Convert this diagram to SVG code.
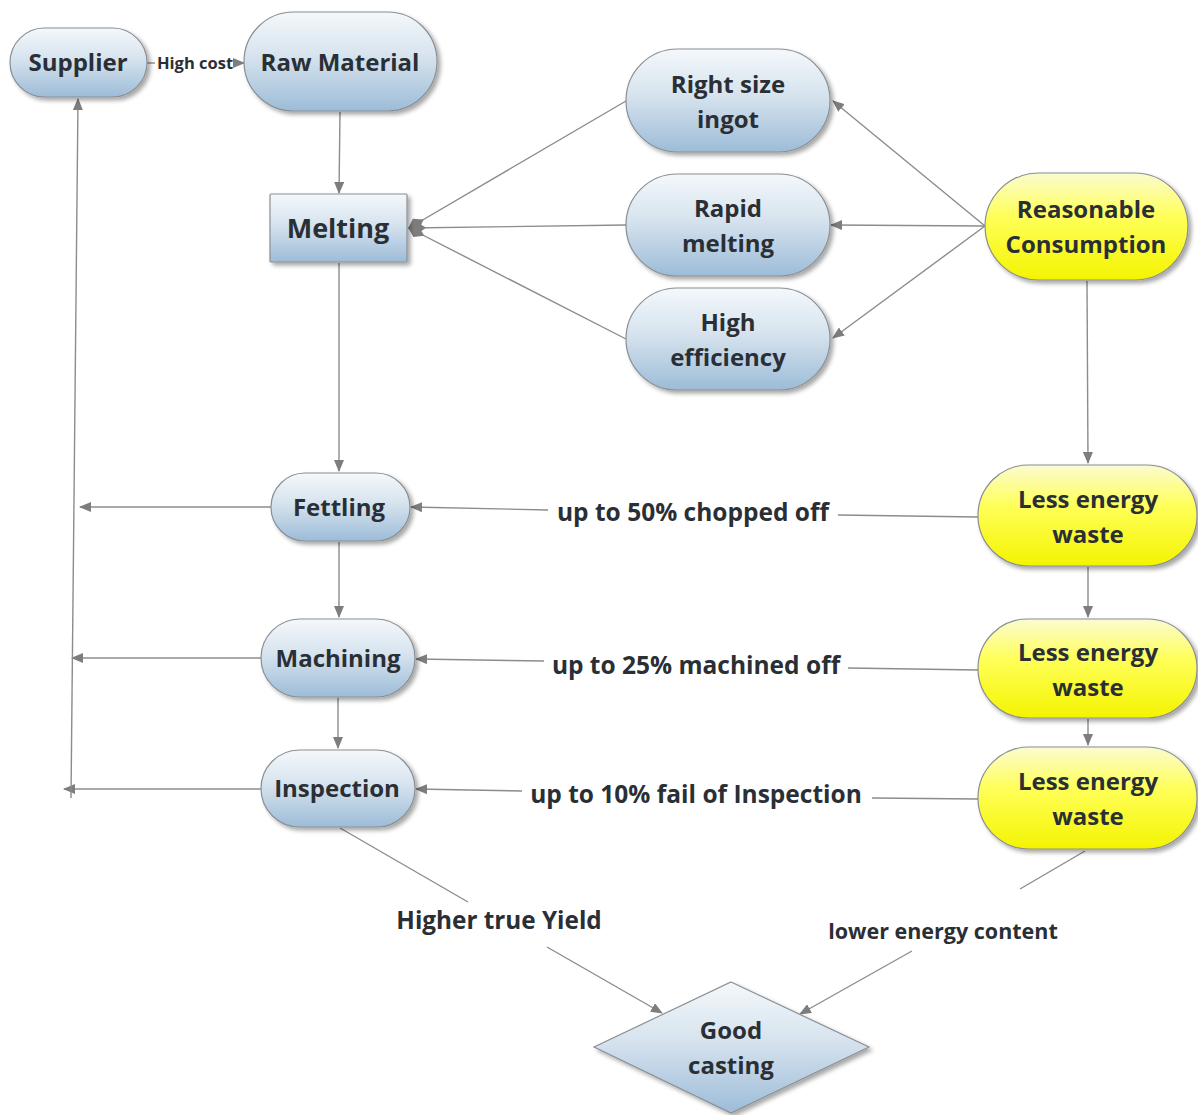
<svg xmlns="http://www.w3.org/2000/svg" width="1198" height="1115" viewBox="0 0 1198 1115">
  <defs>
    <linearGradient id="blueFill" x1="0" y1="0" x2="0" y2="1">
      <stop offset="0" stop-color="#f4f8fb"/>
      <stop offset="0.45" stop-color="#d6e3ee"/>
      <stop offset="1" stop-color="#9dbcd8"/>
    </linearGradient>
    <linearGradient id="yellowFill" x1="0" y1="0" x2="0" y2="1">
      <stop offset="0" stop-color="#fbfbd0"/>
      <stop offset="0.4" stop-color="#ffff5a"/>
      <stop offset="1" stop-color="#f4f400"/>
    </linearGradient>
    <filter id="shadow" x="-20%" y="-20%" width="150%" height="150%">
      <feDropShadow dx="3" dy="3" stdDeviation="2.2" flood-color="#000" flood-opacity="0.35"/>
    </filter>
    <marker id="arrow" viewBox="0 0 12 10" refX="11" refY="5" markerWidth="12" markerHeight="10" markerUnits="userSpaceOnUse" orient="auto">
      <path d="M0,0 L12,5 L0,10 Z" fill="#7d7d7d"/>
    </marker>
    <marker id="diamondEnd" viewBox="0 0 18 12" refX="17" refY="6" markerWidth="18" markerHeight="12" markerUnits="userSpaceOnUse" orient="auto">
      <path d="M0,6 L9,0 L18,6 L9,12 Z" fill="#7d7d7d"/>
    </marker>
  </defs>
  <style>
    .node { stroke: #8a8f94; stroke-width: 1.2; filter: url(#shadow); }
    .blue { fill: url(#blueFill); }
    .yellow { fill: url(#yellowFill); }
    .label { font-family: "Open Sans", "Noto Sans", "DejaVu Sans", sans-serif; font-weight: bold; fill: #2a2f35; text-anchor: middle; }
    .big { font-size: 24px; }
    .edge { stroke: #8c8c8c; stroke-width: 1.4; fill: none; }
    .elabel { font-family: "Open Sans", "Noto Sans", "DejaVu Sans", sans-serif; font-weight: bold; fill: #2a2f35; text-anchor: middle; }
  </style>
  <rect width="1198" height="1115" fill="#ffffff"/>

  <g id="connectors">
    <!-- supplier to raw material -->
    <line class="edge" x1="147" y1="63" x2="155" y2="63"/>
    <line class="edge" x1="234" y1="63" x2="244" y2="63" marker-end="url(#arrow)"/>
    <text class="elabel" x="195" y="69" font-size="16.5">High cost</text>
    <!-- main vertical flow -->
    <line class="edge" x1="340" y1="112" x2="339" y2="193" marker-end="url(#arrow)"/>
    <line class="edge" x1="339" y1="263" x2="339" y2="471" marker-end="url(#arrow)"/>
    <line class="edge" x1="339" y1="542" x2="339" y2="617" marker-end="url(#arrow)"/>
    <line class="edge" x1="338" y1="698" x2="338" y2="748" marker-end="url(#arrow)"/>
    <!-- melting inputs -->
    <line class="edge" x1="626" y1="101" x2="409" y2="228" marker-end="url(#diamondEnd)"/>
    <line class="edge" x1="626" y1="225" x2="409" y2="228" marker-end="url(#diamondEnd)"/>
    <line class="edge" x1="626" y1="339" x2="409" y2="228" marker-end="url(#diamondEnd)"/>
    <!-- reasonable consumption fan-out -->
    <line class="edge" x1="985" y1="226" x2="833" y2="101" marker-end="url(#arrow)"/>
    <line class="edge" x1="985" y1="226" x2="831" y2="225" marker-end="url(#arrow)"/>
    <line class="edge" x1="985" y1="226" x2="833" y2="338" marker-end="url(#arrow)"/>
    <!-- right column -->
    <line class="edge" x1="1087" y1="281" x2="1088" y2="463" marker-end="url(#arrow)"/>
    <line class="edge" x1="1088" y1="567" x2="1088" y2="617" marker-end="url(#arrow)"/>
    <line class="edge" x1="1088" y1="719" x2="1088" y2="745" marker-end="url(#arrow)"/>
    <!-- waste feedback to process steps -->
    <line class="edge" x1="978" y1="517" x2="838" y2="515"/>
    <line class="edge" x1="548" y1="510" x2="411" y2="507" marker-end="url(#arrow)"/>
    <text class="elabel" x="693" y="521" font-size="24.5">up to 50% chopped off</text>
    <line class="edge" x1="978" y1="670" x2="848" y2="668"/>
    <line class="edge" x1="544" y1="661" x2="416" y2="659" marker-end="url(#arrow)"/>
    <text class="elabel" x="696" y="674" font-size="24.5">up to 25% machined off</text>
    <line class="edge" x1="978" y1="799" x2="872" y2="798"/>
    <line class="edge" x1="522" y1="791" x2="416" y2="789" marker-end="url(#arrow)"/>
    <text class="elabel" x="696" y="803" font-size="24.5">up to 10% fail of Inspection</text>
    <!-- scrap returns to supplier -->
    <line class="edge" x1="271" y1="507" x2="80" y2="507" marker-end="url(#arrow)"/>
    <line class="edge" x1="261" y1="658" x2="72" y2="658" marker-end="url(#arrow)"/>
    <line class="edge" x1="261" y1="789" x2="64" y2="789" marker-end="url(#arrow)"/>
    <line class="edge" x1="71" y1="798" x2="78" y2="99" marker-end="url(#arrow)"/>
    <!-- into good casting -->
    <line class="edge" x1="340" y1="828" x2="468" y2="902"/>
    <line class="edge" x1="547" y1="947" x2="662" y2="1013" marker-end="url(#arrow)"/>
    <text class="elabel" x="499" y="929" font-size="24.3">Higher true Yield</text>
    <line class="edge" x1="1085" y1="851" x2="1020" y2="889"/>
    <line class="edge" x1="912" y1="951" x2="800" y2="1014" marker-end="url(#arrow)"/>
    <text class="elabel" x="943" y="939" font-size="21.5">lower energy content</text>
  </g>

  <g id="supplier">
    <rect class="node blue" x="10" y="28" width="137" height="69" rx="34.5"/>
    <text class="label big" x="78" y="71">Supplier</text>
  </g>
  <g id="raw-material">
    <rect class="node blue" x="244" y="12" width="193" height="99" rx="49.5"/>
    <text class="label big" x="340" y="71">Raw Material</text>
  </g>
  <g id="melting">
    <rect class="node blue" x="270" y="194" width="137" height="68" rx="1"/>
    <text class="label" x="338" y="238" font-size="27">Melting</text>
  </g>
  <g id="right-size-ingot">
    <rect class="node blue" x="626" y="49" width="204" height="103" rx="51.5"/>
    <text class="label big" x="728" y="93">Right size</text>
    <text class="label big" x="728" y="128">ingot</text>
  </g>
  <g id="rapid-melting">
    <rect class="node blue" x="626" y="174" width="204" height="102" rx="51"/>
    <text class="label big" x="728" y="217">Rapid</text>
    <text class="label big" x="728" y="252">melting</text>
  </g>
  <g id="high-efficiency">
    <rect class="node blue" x="626" y="288" width="204" height="102" rx="51"/>
    <text class="label big" x="728" y="331">High</text>
    <text class="label big" x="728" y="366">efficiency</text>
  </g>
  <g id="reasonable-consumption">
    <rect class="node yellow" x="985" y="173" width="203" height="107" rx="53.5"/>
    <text class="label big" x="1086" y="218">Reasonable</text>
    <text class="label big" x="1086" y="253">Consumption</text>
  </g>
  <g id="fettling">
    <rect class="node blue" x="271" y="473" width="139" height="68" rx="34"/>
    <text class="label big" x="339" y="516">Fettling</text>
  </g>
  <g id="machining">
    <rect class="node blue" x="261" y="619" width="154" height="78" rx="39"/>
    <text class="label big" x="338" y="667">Machining</text>
  </g>
  <g id="inspection">
    <rect class="node blue" x="261" y="750" width="154" height="77" rx="38.5"/>
    <text class="label big" x="337" y="797">Inspection</text>
  </g>
  <g id="less-energy-waste-1">
    <rect class="node yellow" x="978" y="465" width="219" height="101" rx="50.5"/>
    <text class="label big" x="1088" y="508">Less energy</text>
    <text class="label big" x="1088" y="543">waste</text>
  </g>
  <g id="less-energy-waste-2">
    <rect class="node yellow" x="978" y="619" width="219" height="99" rx="49.5"/>
    <text class="label big" x="1088" y="661">Less energy</text>
    <text class="label big" x="1088" y="696">waste</text>
  </g>
  <g id="less-energy-waste-3">
    <rect class="node yellow" x="978" y="747" width="219" height="102" rx="51"/>
    <text class="label big" x="1088" y="790">Less energy</text>
    <text class="label big" x="1088" y="825">waste</text>
  </g>
  <g id="good-casting">
    <polygon class="node blue" points="731,982 869,1047 731,1113 594,1047"/>
    <text class="label big" x="731" y="1039">Good</text>
    <text class="label big" x="731" y="1074">casting</text>
  </g>
</svg>
